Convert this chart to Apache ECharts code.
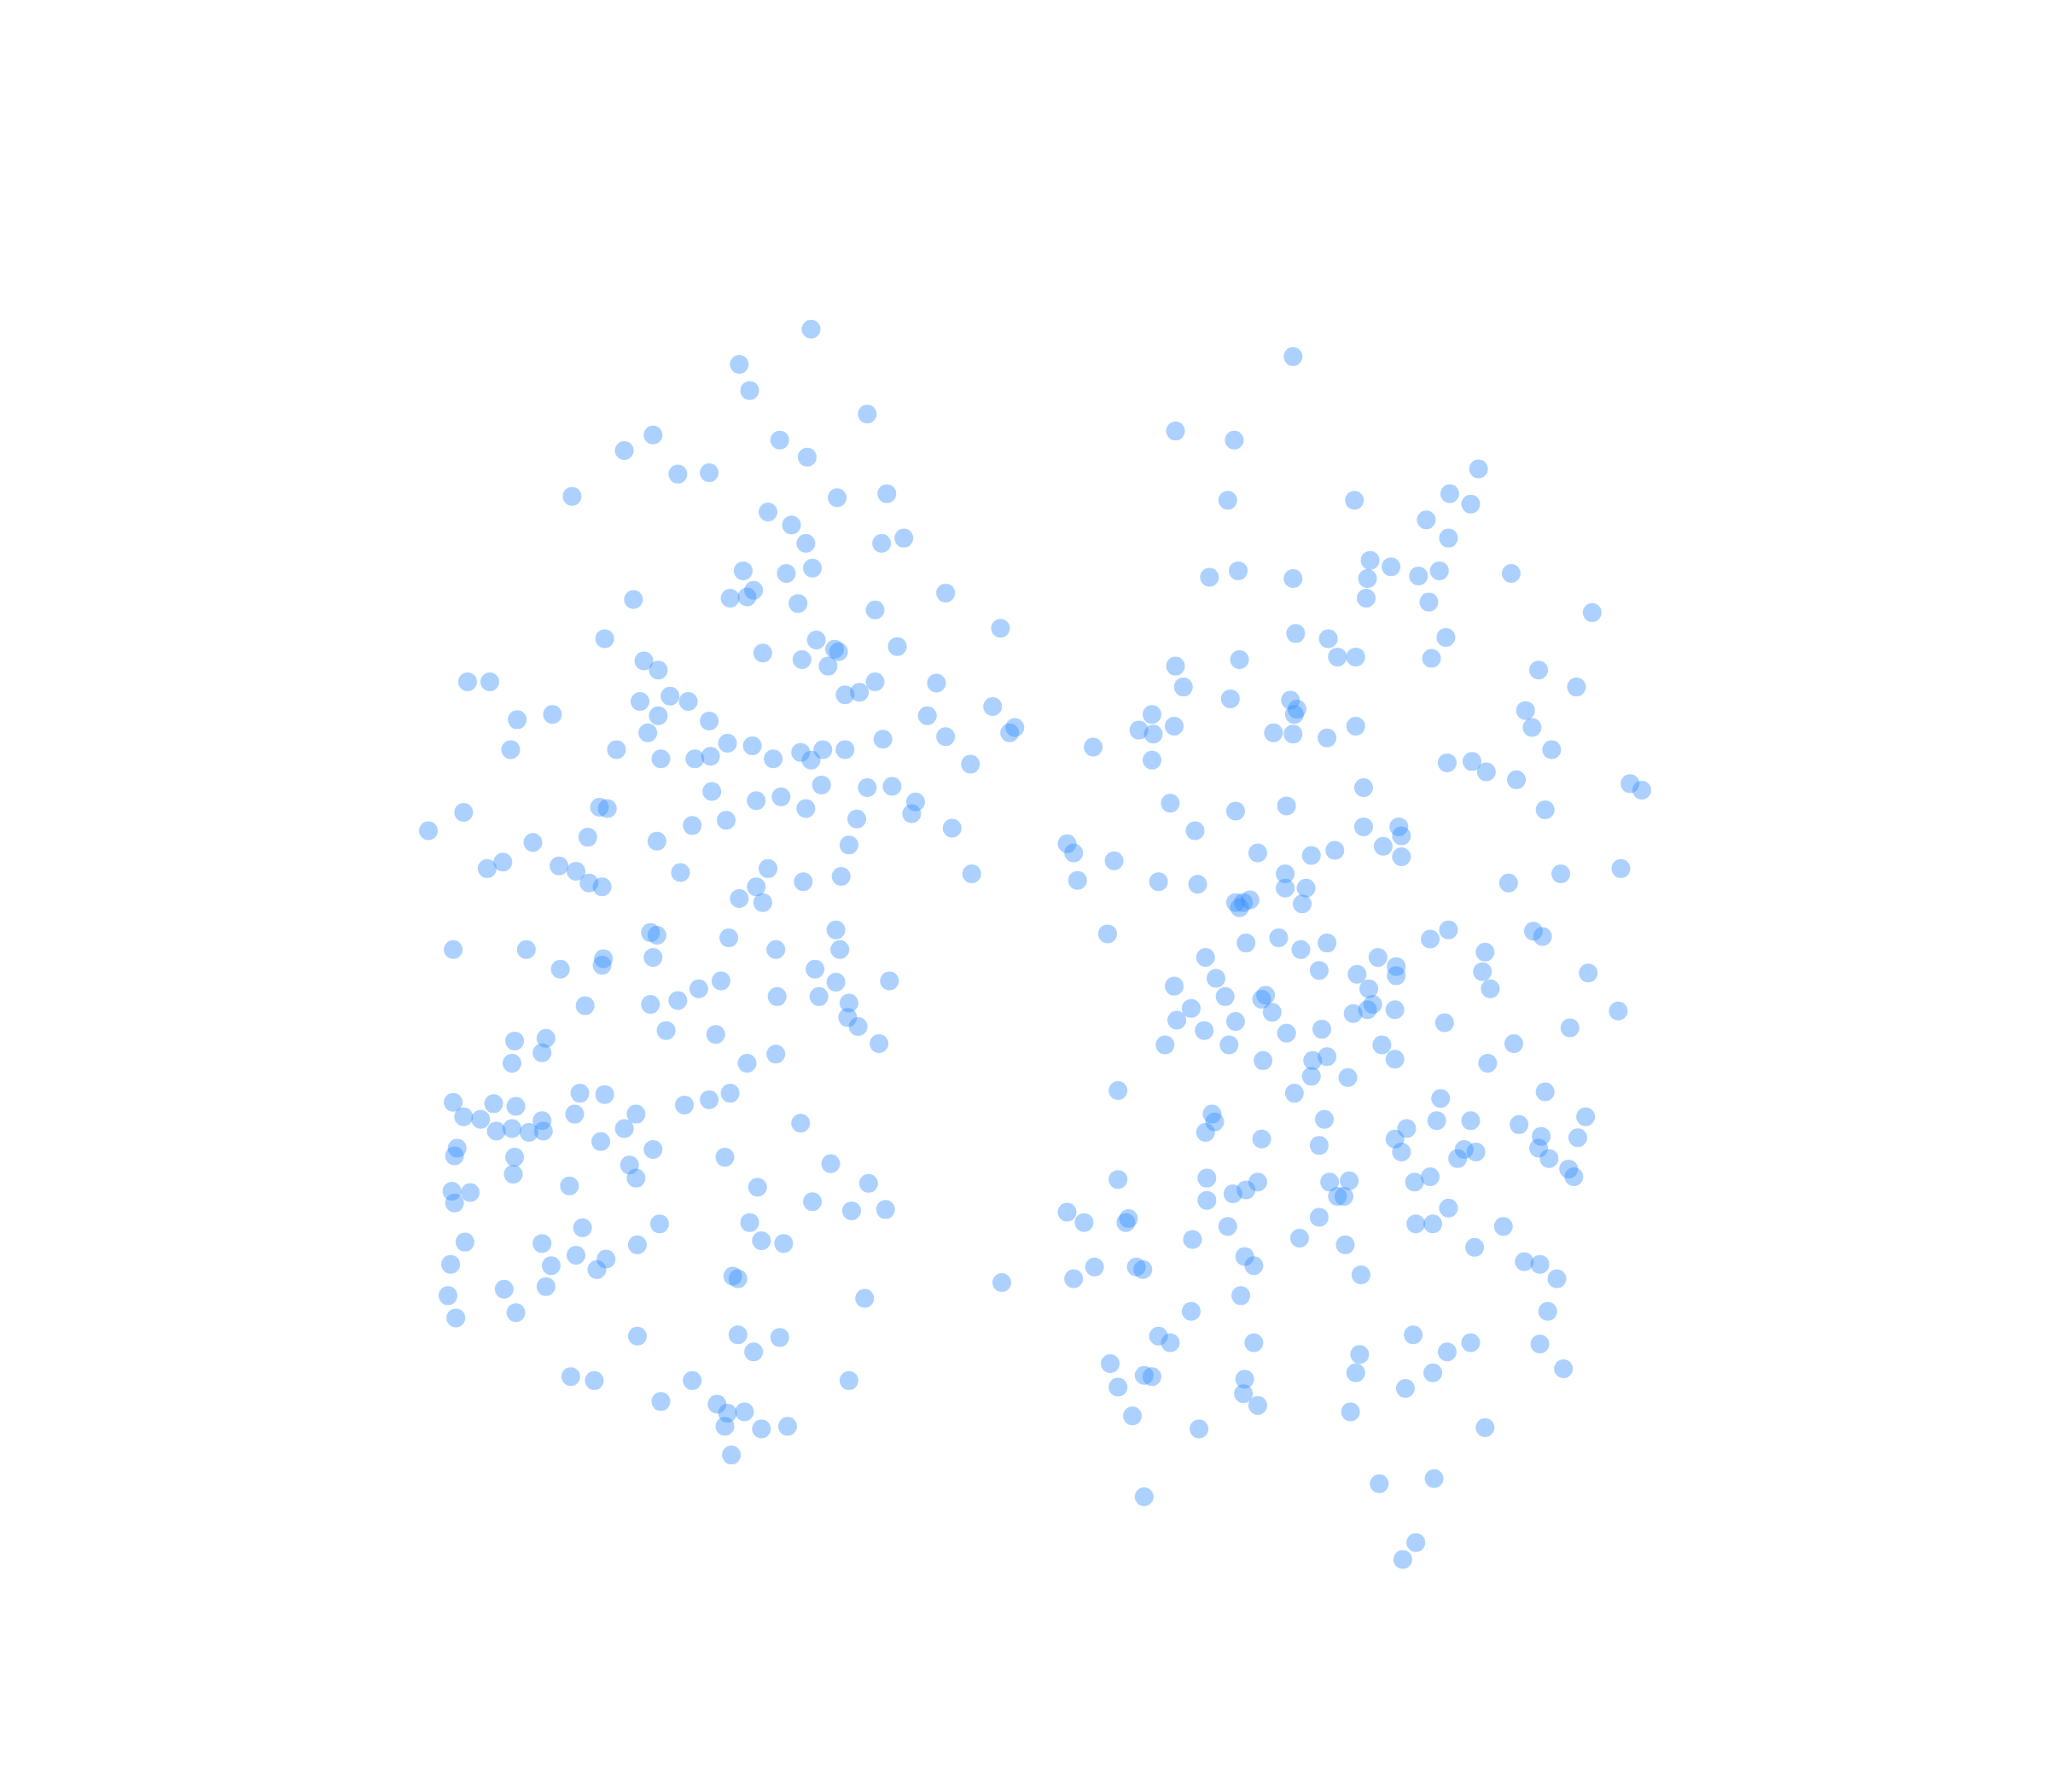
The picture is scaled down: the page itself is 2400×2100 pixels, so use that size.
<!DOCTYPE html>
<html><head><meta charset="utf-8"><style>html,body{margin:0;background:#fff}#c{width:2400px;height:2100px}</style>
<script src="https://cdn.jsdelivr.net/npm/echarts@6/dist/echarts.min.js"></script></head><body><div id="c"></div>
<script>
const leftPts=[[621,252],[566,279],[574,299],[664,317],[500,333],[478,345],[597,337],[618,350],[519,363],[543,362],[438,380],[641,381],[679,378],[588,392],[606,402],[617,416],[675,416],[692,412],[569,437],[602,439],[622,435],[577,452],[572,457],[559,458],[485,459],[611,462],[670,467],[724,454],[766,481],[463,489],[625,490],[639,497],[642,499],[687,495],[584,500],[614,505],[634,510],[493,506],[504,513],[358,522],[375,522],[670,522],[717,523],[658,530],[647,532],[513,533],[527,537],[490,537],[504,548],[396,551],[423,547],[543,552],[710,548],[760,541],[777,557],[773,561],[496,561],[676,566],[724,564],[557,569],[576,571],[472,574],[391,574],[506,581],[532,581],[544,579],[592,581],[613,576],[621,582],[630,574],[647,574],[743,585],[545,606],[629,601],[664,603],[683,602],[579,613],[598,610],[617,619],[701,614],[698,623],[459,618],[465,619],[355,622],[556,628],[530,632],[656,627],[729,634],[328,636],[408,645],[450,641],[503,644],[650,647],[373,665],[385,660],[428,663],[441,667],[451,676],[461,679],[521,668],[588,665],[579,679],[615,675],[644,671],[744,669],[566,688],[584,691],[640,712],[498,714],[503,716],[558,718],[643,727],[347,727],[403,727],[594,727],[462,734],[461,739],[500,733],[429,742],[624,742],[552,751],[640,752],[681,751],[535,757],[519,766],[498,769],[448,770],[595,763],[627,763],[650,768],[649,779],[657,786],[510,789],[548,792],[673,799],[394,797],[418,795],[415,806],[392,814],[572,814],[594,807],[347,844],[444,837],[463,838],[559,837],[543,842],[524,846],[378,845],[395,847],[355,855],[368,857],[440,853],[487,853],[415,858],[392,864],[380,866],[405,867],[416,866],[478,864],[613,860],[460,874],[350,879],[348,885],[500,880],[394,886],[555,886],[482,892],[636,891],[393,899],[487,902],[665,906],[436,908],[580,909],[346,912],[360,913],[348,921],[622,920],[652,927],[678,926],[574,936],[505,937],[446,940],[356,951],[415,952],[488,953],[583,950],[600,952],[441,961],[464,964],[345,968],[422,969],[457,972],[561,977],[565,979],[767,982],[418,985],[386,987],[343,992],[662,994],[395,1005],[349,1009],[488,1023],[565,1022],[597,1024],[577,1035],[437,1054],[455,1057],[530,1057],[650,1057],[506,1073],[549,1075],[557,1082],[570,1081],[555,1092],[583,1094],[603,1092],[560,1114]];
const rightPts=[[990,273],[900,330],[945,337],[1132,359],[1110,378],[1126,386],[940,383],[1037,383],[1092,398],[1109,412],[1049,429],[1065,434],[1047,443],[1086,441],[1102,437],[926,442],[948,437],[990,443],[1157,439],[1046,458],[1094,461],[1219,469],[992,485],[1017,489],[1107,488],[1024,503],[1038,503],[1096,504],[949,505],[900,510],[1178,513],[906,526],[1207,526],[942,535],[988,536],[993,543],[991,547],[882,547],[1168,544],[872,559],[883,562],[899,556],[975,561],[990,562],[1016,565],[1038,556],[1173,557],[837,572],[882,582],[1188,574],[1108,584],[1127,583],[1138,591],[1161,597],[1248,600],[1257,605],[1044,603],[896,615],[946,621],[985,617],[1183,620],[915,636],[1044,633],[1071,633],[1073,640],[817,646],[822,653],[853,659],[963,653],[1004,655],[1022,651],[1059,648],[1073,656],[984,669],[825,674],[887,675],[917,677],[984,680],[1000,680],[1155,676],[1195,669],[1241,665],[946,691],[952,691],[957,689],[949,695],[997,692],[848,715],[954,722],[979,718],[996,727],[1016,722],[1095,719],[1109,712],[1174,713],[1181,717],[923,733],[1055,733],[1137,729],[1010,743],[1069,740],[1039,746],[1069,747],[1135,744],[1216,745],[931,749],[899,755],[1048,757],[1141,757],[938,763],[966,765],[969,762],[1051,769],[1047,773],[1036,776],[1068,773],[912,772],[974,775],[1239,774],[901,781],[946,782],[1106,783],[922,789],[985,791],[1012,788],[1202,787],[892,800],[941,800],[1058,800],[1159,799],[967,812],[1005,812],[1016,809],[1068,811],[1139,814],[1004,824],[1032,825],[856,835],[991,837],[1183,836],[1103,841],[928,853],[1014,857],[930,859],[1100,858],[1126,858],[1214,855],[923,867],[1077,864],[1163,861],[966,872],[1068,872],[1180,870],[1208,871],[1010,877],[1073,882],[1121,880],[1130,882],[1178,879],[1116,887],[1186,887],[1201,895],[1205,901],[856,903],[924,902],[963,905],[1018,905],[1033,904],[1083,905],[1095,901],[954,911],[944,914],[924,919],[1024,916],[1029,916],[817,928],[830,936],[864,933],[862,936],[1010,932],[1109,925],[940,939],[1084,937],[1097,937],[1151,939],[913,949],[995,948],[1030,953],[1129,955],[953,962],[960,969],[838,970],[870,970],[875,972],[822,979],[1042,976],[1167,966],[1179,968],[1192,979],[950,992],[912,1004],[1185,1004],[887,1023],[896,1028],[960,1028],[1082,1022],[1126,1028],[1179,1029],[1108,1035],[1041,1037],[850,1044],[1197,1048],[1038,1051],[1097,1051],[876,1053],[882,1054],[953,1056],[856,1062],[1076,1063],[952,1067],[963,1076],[867,1084],[1034,1081],[918,1094],[1137,1093],[1098,1132],[1056,1136],[876,1146],[1084,1181],[1074,1194]];
const chart=echarts.init(document.getElementById('c'),null,{renderer:'canvas'});
chart.setOption({animation:false,backgroundColor:'#fff',
grid:{left:0,right:0,top:0,bottom:0},
xAxis:{type:'value',min:0,max:1568,show:false},
yAxis:{type:'value',min:0,max:1372,inverse:true,show:false},
series:[{type:'scatter',symbolSize:22,data:leftPts.concat(rightPts),itemStyle:{color:'#2f8cff',opacity:0.4}}]});
</script></body></html>
